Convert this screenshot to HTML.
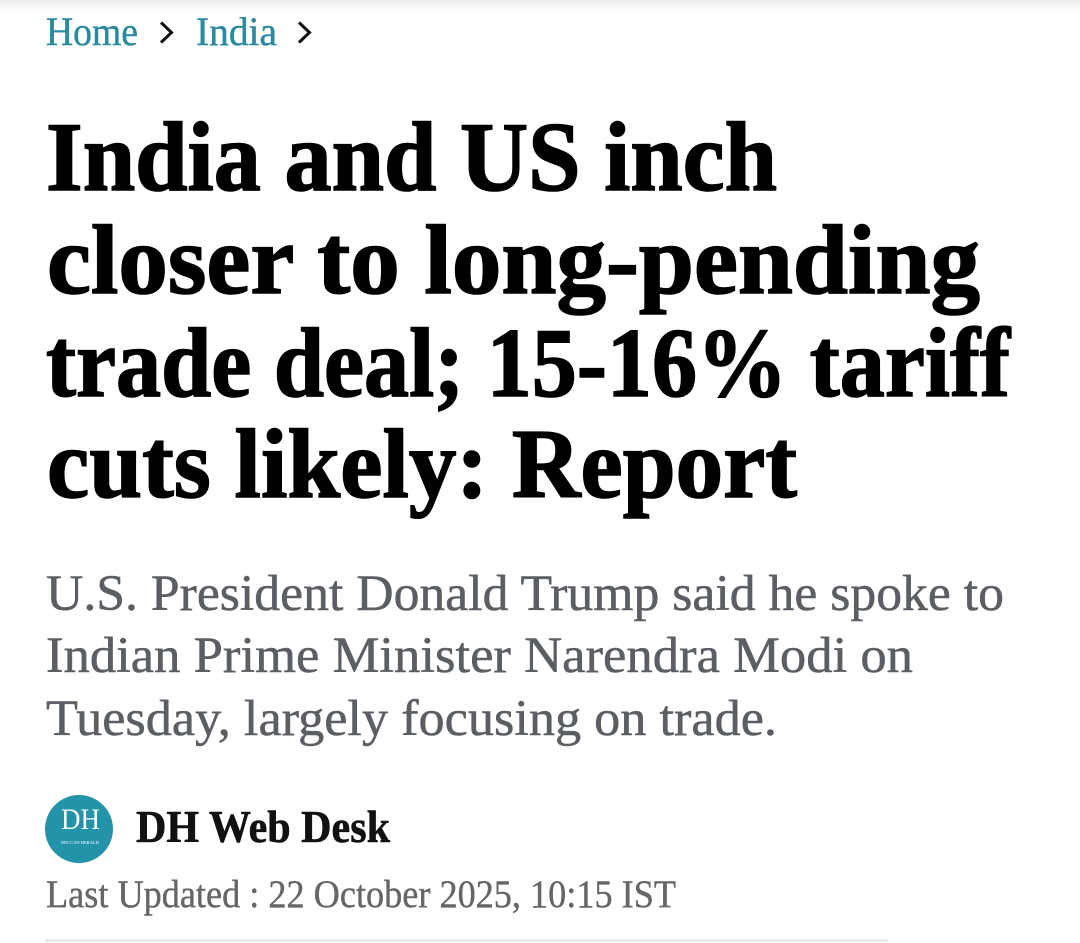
<!DOCTYPE html>
<html>
<head>
<meta charset="utf-8">
<style>
html,body{margin:0;padding:0;background:#fff;}
body{width:1080px;height:943px;overflow:hidden;position:relative;}
.shadow{position:absolute;left:0;top:0;width:1080px;height:12px;background:linear-gradient(#ececec,#fff);}
svg{position:absolute;left:0;top:0;}
</style>
</head>
<body>
<div class="shadow"></div>
<svg width="1080" height="943" viewBox="0 0 1080 943" xmlns="http://www.w3.org/2000/svg">
  <!-- breadcrumb -->
  <text x="46" y="45" font-family="Liberation Serif, serif" font-size="40" fill="#2a8a9e" stroke="#2a8a9e" stroke-width="0.4" textLength="92" lengthAdjust="spacingAndGlyphs">Home</text>
  <polyline points="161,22.5 171.5,32.5 161,42.5" fill="none" stroke="#111" stroke-width="3"/>
  <text x="196" y="45" font-family="Liberation Serif, serif" font-size="40" fill="#2a8a9e" stroke="#2a8a9e" stroke-width="0.4" textLength="81" lengthAdjust="spacingAndGlyphs">India</text>
  <polyline points="299,22.5 309.5,32.5 299,42.5" fill="none" stroke="#111" stroke-width="3"/>

  <!-- headline -->
  <g font-family="Liberation Serif, serif" font-weight="bold" font-size="99" fill="#000" stroke="#000" stroke-width="1.6">
    <text x="46" y="190" textLength="731" lengthAdjust="spacingAndGlyphs">India and US inch</text>
    <text x="47" y="293" textLength="933" lengthAdjust="spacingAndGlyphs">closer to long-pending</text>
    <text x="46" y="396" textLength="964" lengthAdjust="spacingAndGlyphs">trade deal; 15-16% tariff</text>
    <text x="47" y="497" textLength="750" lengthAdjust="spacingAndGlyphs">cuts likely: Report</text>
  </g>

  <!-- subheadline -->
  <g font-family="Liberation Serif, serif" font-size="51" fill="#5b5f64" stroke="#5b5f64" stroke-width="0.5">
    <text x="46" y="610" textLength="958" lengthAdjust="spacingAndGlyphs">U.S. President Donald Trump said he spoke to</text>
    <text x="46" y="672" textLength="867" lengthAdjust="spacingAndGlyphs">Indian Prime Minister Narendra Modi on</text>
    <text x="46" y="735" textLength="731" lengthAdjust="spacingAndGlyphs">Tuesday, largely focusing on trade.</text>
  </g>

  <!-- author logo -->
  <circle cx="79" cy="829" r="34" fill="#2393aa"/>
  <text x="80.5" y="829" text-anchor="middle" font-family="Liberation Serif, serif" font-size="30" fill="#fff" textLength="39" lengthAdjust="spacingAndGlyphs">DH</text>
  <text x="80" y="844" text-anchor="middle" font-family="Liberation Serif, serif" font-size="4.5" fill="#fff">DECCAN HERALD</text>

  <text x="136" y="842" font-family="Liberation Serif, serif" font-weight="bold" font-size="45" fill="#111" stroke="#111" stroke-width="0.6" textLength="254" lengthAdjust="spacingAndGlyphs">DH Web Desk</text>

  <text x="46" y="907" font-family="Liberation Serif, serif" font-size="39" fill="#666" stroke="#666" stroke-width="0.4" textLength="630" lengthAdjust="spacingAndGlyphs">Last Updated : 22 October 2025, 10:15 IST</text>

  <rect x="45" y="939" width="843" height="3" fill="#ebebeb"/>
</svg>
</body>
</html>
